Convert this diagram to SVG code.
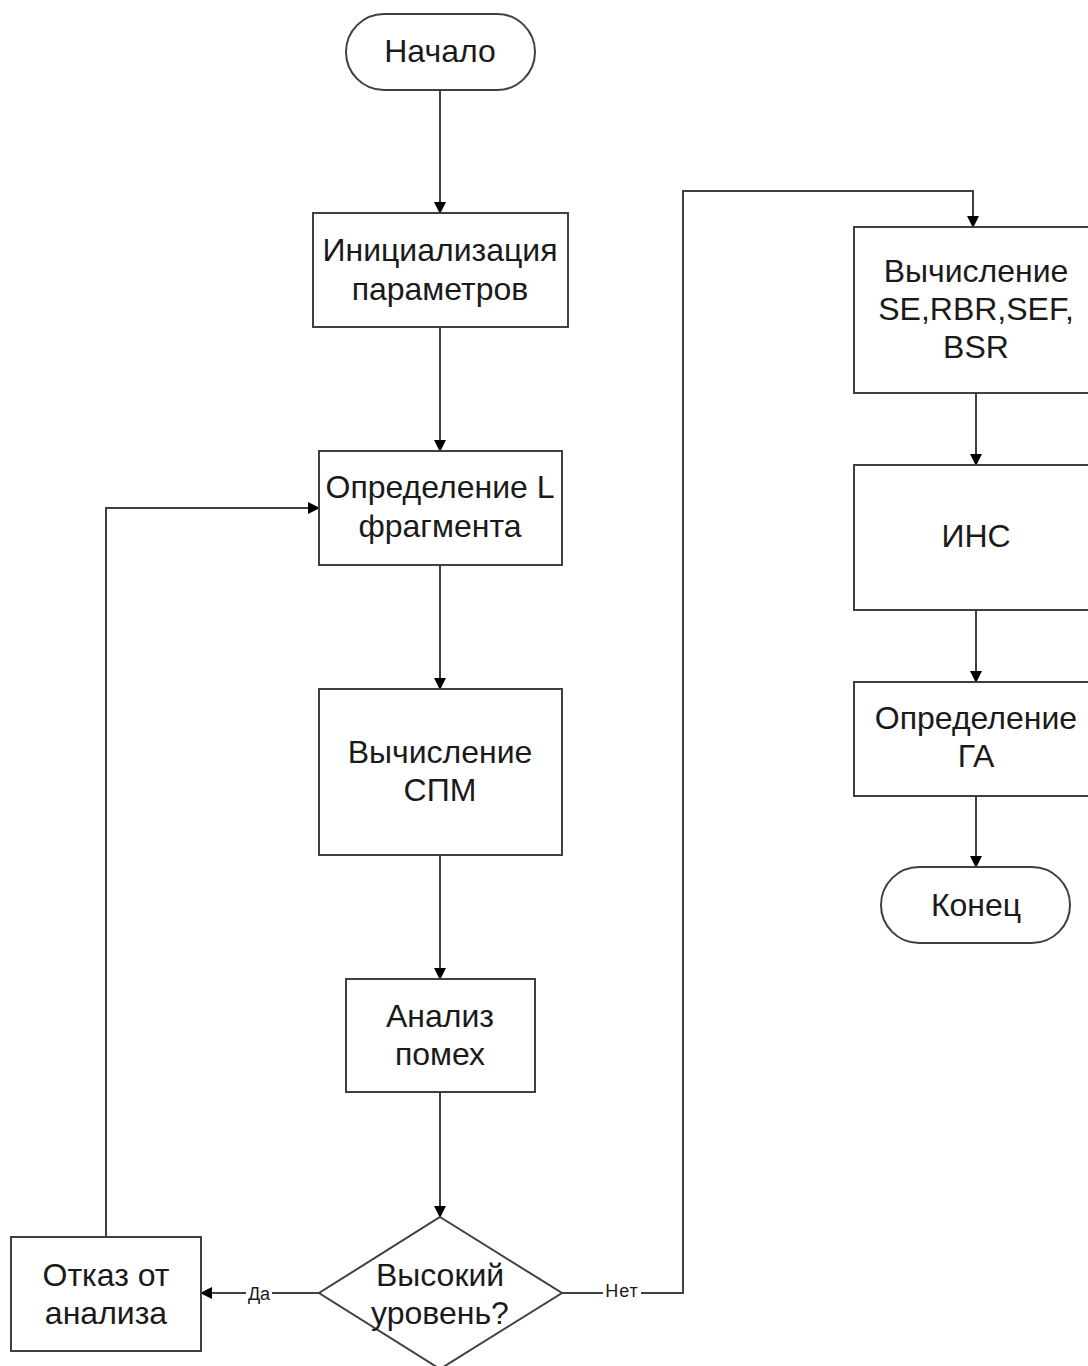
<svg xmlns="http://www.w3.org/2000/svg" width="1088" height="1366" viewBox="0 0 1088 1366">
<defs>
<marker id="arr" markerWidth="12" markerHeight="12" refX="11" refY="6" orient="auto" markerUnits="userSpaceOnUse">
<path d="M0,0 L12,6 L0,12 Z" fill="#000"/>
</marker>
<style>
.box{fill:#fff;stroke:#404040;stroke-width:2}
.t{font-family:"Liberation Sans",Arial,sans-serif;font-size:32px;fill:#1a1a1a;text-anchor:middle}
.lbl{font-family:"Liberation Sans",Arial,sans-serif;font-size:18px;fill:#1a1a1a;text-anchor:middle}
.c{fill:none;stroke:#404040;stroke-width:2;marker-end:url(#arr)}
</style>
</defs>
<rect width="1088" height="1366" fill="#fff"/>
<g id="connectors">
<path class="c" d="M440,90 V213"/>
<path class="c" d="M440,327 V451"/>
<path class="c" d="M440,565 V689"/>
<path class="c" d="M440,855 V979"/>
<path class="c" d="M440,1092 V1217"/>
<path class="c" d="M319,1293 H201"/>
<path class="c" d="M562,1293 H683 V191 H973 V227"/>
<path class="c" d="M106,1237 V508 H319"/>
<path class="c" d="M976,393 V465"/>
<path class="c" d="M976,610 V682"/>
<path class="c" d="M976,796 V867"/>
<rect x="246" y="1283" width="26" height="18" fill="#fff"/>
<text class="lbl" x="259" y="1300">Да</text>
<rect x="603" y="1280" width="38" height="16" fill="#fff"/>
<text class="lbl" x="622" y="1297" letter-spacing="1">Нет</text>
</g>
<g id="start">
<rect class="box" x="346" y="14" width="189" height="76" rx="38"/>
<text class="t" x="440" y="62">Начало</text>
</g>
<g id="init">
<rect class="box" x="313" y="213" width="255" height="114"/>
<text class="t" x="440" y="261">Инициализация</text>
<text class="t" x="440" y="300">параметров</text>
</g>
<g id="defL">
<rect class="box" x="319" y="451" width="243" height="114"/>
<text class="t" x="440" y="498">Определение L</text>
<text class="t" x="440" y="537">фрагмента</text>
</g>
<g id="spm">
<rect class="box" x="319" y="689" width="243" height="166"/>
<text class="t" x="440" y="763">Вычисление</text>
<text class="t" x="440" y="801">СПМ</text>
</g>
<g id="noise">
<rect class="box" x="346" y="979" width="189" height="113"/>
<text class="t" x="440" y="1027">Анализ</text>
<text class="t" x="440" y="1065">помех</text>
</g>
<g id="decision">
<polygon class="box" points="440,1217 562,1293 440,1369 319,1293"/>
<text class="t" x="440" y="1286">Высокий</text>
<text class="t" x="440" y="1324">уровень?</text>
</g>
<g id="reject">
<rect class="box" x="11" y="1237" width="190" height="114"/>
<text class="t" x="106" y="1286">Отказ от</text>
<text class="t" x="106" y="1324">анализа</text>
</g>
<g id="calcSE">
<rect class="box" x="854" y="227" width="244" height="166"/>
<text class="t" x="976" y="282">Вычисление</text>
<text class="t" x="976" y="320">SE,RBR,SEF,</text>
<text class="t" x="976" y="358">BSR</text>
</g>
<g id="ins">
<rect class="box" x="854" y="465" width="244" height="145"/>
<text class="t" x="976" y="547">ИНС</text>
</g>
<g id="defGA">
<rect class="box" x="854" y="682" width="244" height="114"/>
<text class="t" x="976" y="729">Определение</text>
<text class="t" x="976" y="767">ГА</text>
</g>
<g id="end">
<rect class="box" x="881" y="867" width="189" height="76" rx="38"/>
<text class="t" x="976" y="916">Конец</text>
</g>
</svg>
